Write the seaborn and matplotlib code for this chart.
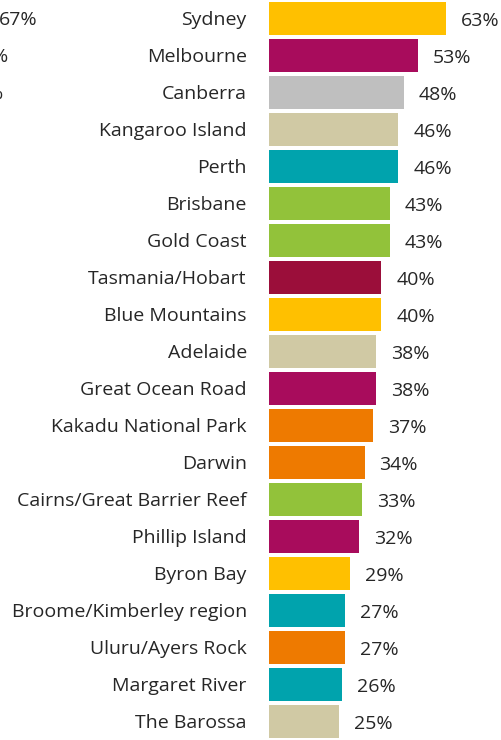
import matplotlib
matplotlib.use("Agg")
import matplotlib.pyplot as plt
import seaborn as sns
import pandas as pd

destinations = [
    "Sydney", "Melbourne", "Canberra", "Kangaroo Island", "Perth", "Brisbane",
    "Gold Coast", "Tasmania/Hobart", "Blue Mountains", "Adelaide",
    "Great Ocean Road", "Kakadu National Park", "Darwin",
    "Cairns/Great Barrier Reef", "Phillip Island", "Byron Bay",
    "Broome/Kimberley region", "Uluru/Ayers Rock", "Margaret River", "The Barossa",
]
shares = [63, 53, 48, 46, 46, 43, 43, 40, 40, 38, 38, 37, 34, 33, 32, 29, 27, 27, 26, 25]
colours = [
    "#FFC000", "#A80C5C", "#BFBFBF", "#D0C9A4", "#00A3AD", "#92C23A",
    "#92C23A", "#9B0E3A", "#FFC000", "#D0C9A4", "#A80C5C", "#EE7A00",
    "#EE7A00", "#92C23A", "#A80C5C", "#FFC000", "#00A3AD", "#EE7A00",
    "#00A3AD", "#D0C9A4",
]
# fragments of the neighbouring panel cut off at the left edge
left_fragments = ["67%", "%", "%"]

df = pd.DataFrame({"destination": destinations, "share": shares})

sns.set_style("white")
plt.rcParams["font.family"] = ["Open Sans", "DejaVu Sans"]

fig = plt.figure(figsize=(5.02, 7.40), dpi=100)
ax = fig.add_axes([269 / 502, 0.0, 1 - 269 / 502, 1.0])

sns.barplot(
    data=df, y="destination", x="share", hue="destination",
    palette=colours, saturation=1, orient="h", width=0.87,
    linewidth=0, legend=False, ax=ax,
)

ax.set_xlim(0, (502 - 269) / 2.81)
ax.set_ylim(19.5, -0.5)
ax.set_xlabel("")
ax.set_ylabel("")
ax.set_xticks([])
ax.tick_params(axis="y", length=0, pad=16, labelsize=14, labelcolor="#262626")
sns.despine(ax=ax, left=True, bottom=True)

for i, v in enumerate(shares):
    ax.text(v + 5.3, i + 0.06, f"{v}%", va="center", ha="left",
            fontsize=14, color="#262626")

frag_pos = [(38, 20), (8, 57), (3, 94)]
for txt, (px, py) in zip(left_fragments, frag_pos):
    fig.text(px / 502, 1 - py / 740, txt, ha="right", va="center",
             fontsize=14, color="#262626")

fig.savefig("out.png", dpi=100)
